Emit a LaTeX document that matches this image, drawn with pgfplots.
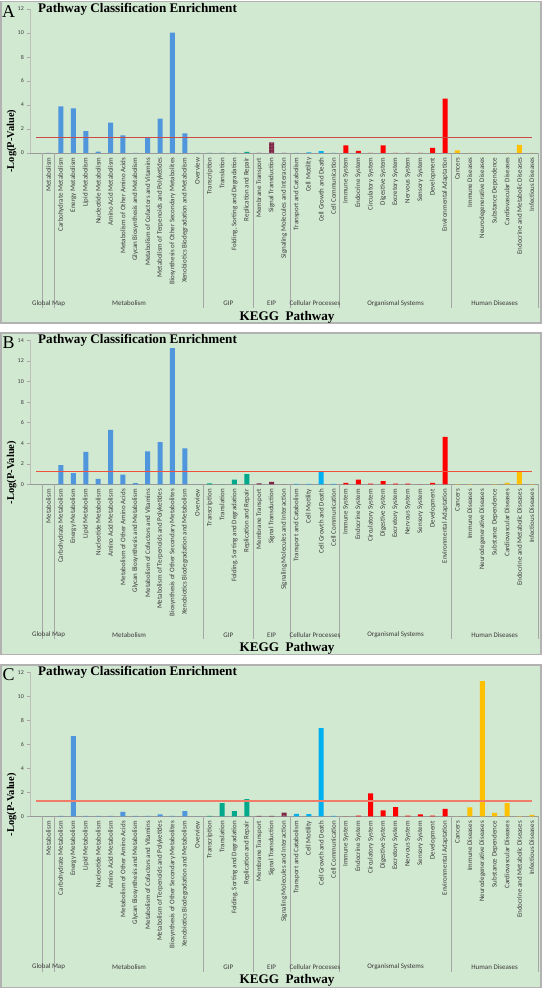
\documentclass[border=0pt]{standalone}
\usepackage{pgfplots}
\pgfplotsset{compat=1.18}
\usetikzlibrary{patterns}
\usepackage{fontspec}
\setmainfont{Liberation Serif}
\newfontfamily\calib{Carlito}
\definecolor{bg}{RGB}{209,232,209}
\definecolor{framec}{RGB}{178,178,178}
\definecolor{met}{RGB}{80,150,220}
\definecolor{gip}{RGB}{0,168,140}
\definecolor{eip}{RGB}{125,40,70}
\definecolor{cp}{RGB}{0,176,240}
\definecolor{os}{RGB}{255,0,0}
\definecolor{hd}{RGB}{255,192,0}
\definecolor{lab}{RGB}{60,60,60}
\definecolor{thrA}{RGB}{205,75,70}
\definecolor{thrB}{RGB}{240,80,60}
\definecolor{thrC}{RGB}{240,125,105}
\tikzset{grp/.style={font=\calib\fontsize{7}{8}\selectfont, text=lab, yshift=-150.5bp, anchor=center}}
\pgfplotsset{
 panel/.style={
  scale only axis, width=508bp, height=144bp,
  xmin=-0.5, xmax=40.5, ymin=0,
  clip=false,
  axis x line*=bottom, axis y line*=left, separate axis lines,
  x axis line style={-, draw=black!40, line width=0.6bp},
  y axis line style={-, draw=black!25, line width=0.6bp},
  major tick length=3bp, tick align=outside,
  ytick style={draw=black!35, line width=0.6bp},
  xtick style={draw=none},
  xtick={1,...,40},
  xticklabels={Metabolism, Carbohydrate Metabolism, Energy Metabolism, Lipid Metabolism, Nucleotide Metabolism, Amino Acid Metabolism, Metabolism of Other Amino Acids, Glycan Biosynthesis and Metabolism, Metabolism of Cofactors and Vitamins, Metabolism of Terpenoids and Polyketides, Biosynthesis of Other Secondary Metabolites, Xenobiotics Biodegradation and Metabolism, Overview, Transcription, Translation, {Folding, Sorting and Degradation}, Replication and Repair, Membrane Transport, Signal Transduction, Signaling Molecules and Interaction, Transport and Catabolism, Cell Motility, Cell Growth and Death, Cell Communication, Immune System, Endocrine System, Circulatory System, Digestive System, Excretory System, Nervous System, Sensory System, Development, Environmental Adaptation, Cancers, Immune Diseases, Neurodegenerative Diseases, Substance Dependence, Cardiovascular Diseases, Endocrine and Metabolic Diseases, Infectious Diseases},
  xticklabel style={rotate=90, anchor=east, font=\calib\fontsize{7}{8}\selectfont, text=lab, inner sep=1.5bp},
  yticklabel style={font=\calib\fontsize{6}{7}\selectfont, text=lab, inner sep=1bp, xshift=-2bp},
  /pgf/number format/assume math mode=true,
  ylabel={-Log(P-Value)},
  ylabel style={at={(axis description cs:-0.036,0.083)}, anchor=center, font=\bfseries\fontsize{10.5}{12}\selectfont},
  xlabel={KEGG\ \ Pathway},
  xlabel style={at={(axis description cs:0.506,-1.139)}, anchor=center, font=\bfseries\fontsize{13.2}{15}\selectfont},
  title={Pathway Classification Enrichment},
  title style={at={(axis description cs:0.0157,0.958)}, anchor=west, yshift=0pt, inner sep=0pt, font=\bfseries\fontsize{13.2}{15}\selectfont},
 },
 bars/.style={ybar, bar width=5bp, bar shift=0pt, draw=none, fill=#1},
}
\newcommand\groups{%
 \pgfplotsinvokeforeach{0.5,1.5,13.5,17.5,20.5,24.5,33.5,40.5}{\draw[black!35, line width=0.6bp] (axis cs:##1,0) -- ++(0pt,-155bp);}
 \node[grp] at (axis cs:1,0) {Global Map};
 \node[grp] at (axis cs:7.5,0) {Metabolism};
 \node[grp] at (axis cs:15.5,0) {GIP};
 \node[grp] at (axis cs:19,0) {EIP};
 \node[grp] at (axis cs:22.5,0) {Cellular Processes};
 \node[grp] at (axis cs:29,0) {Organismal Systems};
 \node[grp] at (axis cs:37,0) {Human Diseases};
}
\begin{document}
\begin{tikzpicture}[x=1bp,y=1bp]
% panel frames
\filldraw[fill=bg, draw=framec, line width=1.5bp] (1,990.5) rectangle (541,669);
\filldraw[fill=bg, draw=framec, line width=1.5bp] (1,659) rectangle (541,337.5);
\filldraw[fill=bg, draw=framec, line width=1.5bp] (1,327) rectangle (541,4.5);
\node[font=\fontsize{18}{18}\selectfont, inner sep=0] at (8.5,980.5) {A};
\node[font=\fontsize{18}{18}\selectfont, inner sep=0] at (8.5,649) {B};
\node[font=\fontsize{18}{18}\selectfont, inner sep=0] at (8.5,317) {C};

% ---------- Panel A ----------
\begin{axis}[panel, at={(30bp,839bp)}, anchor=south west, ymax=12, ytick={0,2,...,12}]
\addplot[bars=met] coordinates {(1,0)(2,3.89)(3,3.72)(4,1.83)(5,0.11)(6,2.53)(7,1.47)(8,0)(9,1.33)(10,2.86)(11,10.03)(12,1.64)(13,0)};
\addplot[bars=gip] coordinates {(14,0)(15,0)(16,0)(17,0.10)};
\addplot[bars=eip, postaction={pattern=dots, pattern color=pink!70}] coordinates {(18,0)(19,0.89)(20,0)};
\addplot[bars=cp] coordinates {(21,0)(22,0.05)(23,0.15)(24,0)};
\addplot[bars=os] coordinates {(25,0.64)(26,0.17)(27,0)(28,0.64)(29,0)(30,0)(31,0)(32,0.42)(33,4.53)};
\addplot[bars=hd] coordinates {(34,0.22)(35,0)(36,0)(37,0)(38,0)(39,0.67)(40,0)};
\addplot[thrA, line width=0.8bp] coordinates {(0,1.3)(40,1.3)};
\groups
\end{axis}

% ---------- Panel B ----------
\begin{axis}[panel, at={(30bp,507.5bp)}, anchor=south west, ymax=14, ytick={0,2,...,14}]
\addplot[bars=met] coordinates {(1,0)(2,1.88)(3,1.10)(4,3.17)(5,0.55)(6,5.30)(7,0.97)(8,0.13)(9,3.23)(10,4.11)(11,13.26)(12,3.52)(13,0)};
\addplot[bars=gip] coordinates {(14,0.10)(15,0)(16,0.48)(17,1.00)};
\addplot[bars=eip] coordinates {(18,0.10)(19,0.26)(20,0)};
\addplot[bars=cp] coordinates {(21,0.05)(22,0.05)(23,1.25)(24,0.05)};
\addplot[bars=os] coordinates {(25,0.16)(26,0.48)(27,0.08)(28,0.32)(29,0.08)(30,0.08)(31,0)(32,0.16)(33,4.62)};
\addplot[bars=hd] coordinates {(34,0.03)(35,0.03)(36,0)(37,0.03)(38,0.16)(39,1.23)(40,0.03)};
\addplot[thrB, line width=1.1bp] coordinates {(0,1.3)(40,1.3)};
\groups
\end{axis}

% ---------- Panel C ----------
\begin{axis}[panel, at={(30bp,175.5bp)}, anchor=south west, ymax=12, ytick={0,2,...,12}]
\addplot[bars=met] coordinates {(1,0)(2,0.05)(3,6.69)(4,0.05)(5,0.05)(6,0.05)(7,0.39)(8,0.05)(9,0.05)(10,0.17)(11,0.05)(12,0.44)(13,0)};
\addplot[bars=gip] coordinates {(14,0.05)(15,1.11)(16,0.44)(17,1.44)};
\addplot[bars=eip, postaction={pattern=dots, pattern color=pink!70}] coordinates {(18,0.05)(19,0.05)(20,0.33)};
\addplot[bars=cp] coordinates {(21,0.22)(22,0.19)(23,7.36)(24,0.05)};
\addplot[bars=os] coordinates {(25,0)(26,0.07)(27,1.92)(28,0.50)(29,0.78)(30,0.08)(31,0.17)(32,0.08)(33,0.64)};
\addplot[bars=hd] coordinates {(34,0.02)(35,0.75)(36,11.28)(37,0.31)(38,1.11)(39,0.03)(40,0.14)};
\addplot[thrC, line width=1.4bp] coordinates {(0,1.3)(40,1.3)};
\groups
\end{axis}
\pgfresetboundingbox
\path[use as bounding box] (0,0) rectangle (542,992);
\end{tikzpicture}
\end{document}
